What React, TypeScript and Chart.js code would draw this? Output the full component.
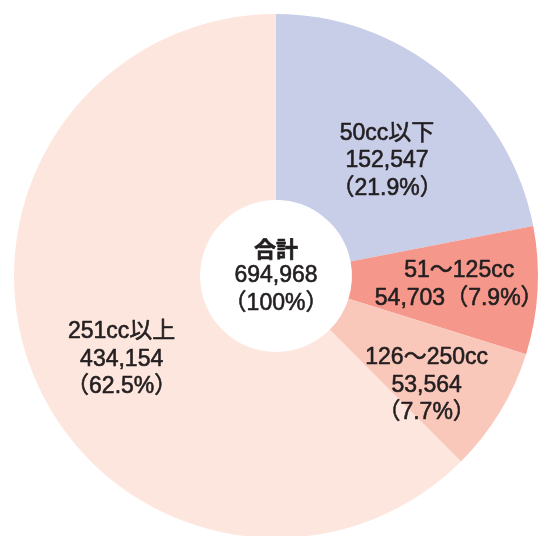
import React, { useEffect, useRef } from "react";
import { Chart, registerables } from "chart.js";

Chart.register(...registerables);

const categories = ["50cc以下", "51～125cc", "126～250cc", "251cc以上"];
const values = [152547, 54703, 53564, 434154];
const percents = ["21.9%", "7.9%", "7.7%", "62.5%"];
const colors = ["#c8cde8", "#f5978a", "#fac8bb", "#fde6dd"];
const totalLabel = "合計";
const totalValue = 694968;
const totalPercent = "100%";

const fmt = (n: number) => n.toLocaleString("en-US");

// label text lines per slice
const labelLines: string[][] = [
  [categories[0], fmt(values[0]), `（${percents[0]}）`],
  [categories[1], `${fmt(values[1])}（${percents[1]}）`],
  [categories[2], fmt(values[2]), `（${percents[2]}）`],
  [categories[3], fmt(values[3]), `（${percents[3]}）`],
];
// placement relative to slice mid-angle: [angle offset deg, radius fraction]
const labelPlacement: [number, number][] = [
  [4.5, 0.61],
  [-0.5, 0.7],
  [4.7, 0.71],
  [-6, 0.67],
];

const FONT = '23px "Liberation Sans", "Noto Sans CJK JP", sans-serif';
const BOLD = '700 22px "Noto Sans CJK JP", sans-serif';
const LINE_H = 27.5;

const labelPlugin = {
  id: "sliceLabels",
  afterDatasetsDraw(chart: any) {
    const { ctx } = chart;
    const meta = chart.getDatasetMeta(0);
    ctx.save();
    ctx.fillStyle = "#231f20";
    ctx.strokeStyle = "#231f20";
    ctx.lineWidth = 0.6;
    ctx.lineJoin = "round";
    ctx.font = FONT;
    ctx.textAlign = "center";
    ctx.textBaseline = "middle";
    const draw = (t: string, x: number, y: number) => {
      ctx.fillText(t, x, y);
      ctx.strokeText(t, x, y);
    };
    let cx = 0;
    let cy = 0;
    meta.data.forEach((arc: any, i: number) => {
      const p = arc.getProps(["x", "y", "startAngle", "endAngle", "outerRadius"], true);
      cx = p.x;
      cy = p.y;
      const [dA, frac] = labelPlacement[i];
      const a = (p.startAngle + p.endAngle) / 2 + (dA * Math.PI) / 180;
      const r = p.outerRadius * frac;
      const lx = p.x + Math.cos(a) * r;
      const ly = p.y + Math.sin(a) * r;
      const lines = labelLines[i];
      const y0 = ly - ((lines.length - 1) * LINE_H) / 2;
      lines.forEach((t, j) => draw(t, lx, y0 + j * LINE_H));
    });
    const center = [totalLabel, fmt(totalValue), `（${totalPercent}）`];
    const y0 = cy - LINE_H;
    center.forEach((t, j) => {
      ctx.font = j === 0 ? BOLD : FONT;
      draw(t, cx, y0 + j * LINE_H);
    });
    ctx.restore();
  },
};

export default function App() {
  const ref = useRef<HTMLCanvasElement>(null);
  useEffect(() => {
    document.body.style.margin = "0";
    document.body.style.overflow = "hidden";
    document.documentElement.style.overflow = "hidden";
    const chart = new Chart(ref.current!, {
      type: "doughnut",
      data: {
        labels: categories,
        datasets: [
          {
            data: values,
            backgroundColor: colors,
            borderWidth: 0,
          },
        ],
      },
      options: {
        animation: false,
        responsive: false,
        cutout: "29%",
        layout: { padding: 14 },
        plugins: {
          legend: { display: false },
          tooltip: { enabled: false },
        },
      },
      plugins: [labelPlugin],
    });
    return () => chart.destroy();
  }, []);
  return (
    <div
      style={{
        position: "fixed",
        left: 0,
        top: 0,
        width: 540,
        height: 536,
        overflow: "hidden",
        background: "#ffffff",
      }}
    >
      <canvas ref={ref} width={552} height={552} style={{ display: "block" }} />
    </div>
  );
}
